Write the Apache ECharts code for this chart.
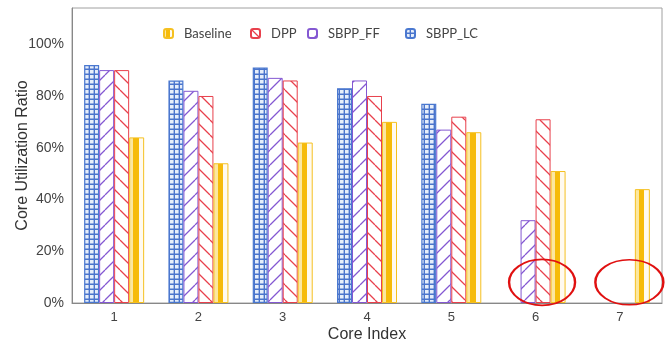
<!DOCTYPE html>
<html>
<head>
<meta charset="utf-8">
<script src="https://cdn.jsdelivr.net/npm/echarts@6/dist/echarts.min.js"></script>
<style>
  html, body { margin: 0; padding: 0; background: #fff; }
  #main { width: 672px; height: 343px; }
</style>
</head>
<body>
<div id="main"></div>
<script>
// 数据
const categories = ['1', '2', '3', '4', '5', '6', '7'];
const lcValues = [92, 86, 91, 83, 77, 0, 0];        // SBPP_LC
const ffValues = [90, 82, 87, 86, 67, 32, 0];       // SBPP_FF
const dppValues = [90, 80, 86, 80, 72, 71, 0];      // DPP
const baseValues = [64, 54, 62, 70, 66, 51, 44];    // Baseline
const legendNames = ['Baseline', 'DPP', 'SBPP_FF', 'SBPP_LC'];
const circleMarks = [['6', 8], ['7', 8]];           // 红圈标注

// 0 的柱子不画（否则会在轴上留一条边线）
const noZero = arr => arr.map(v => v === 0 ? '-' : v);

// 填充图案
function gridPattern() {
    const c = document.createElement('canvas');
    c.width = 5; c.height = 5;
    const ctx = c.getContext('2d');
    ctx.fillStyle = '#e6eefa';
    ctx.fillRect(0, 0, 5, 5);
    ctx.strokeStyle = '#4a74cc';
    ctx.lineWidth = 1.4;
    ctx.beginPath();
    ctx.moveTo(4.3, 0); ctx.lineTo(4.3, 5);
    ctx.moveTo(0, 4.3); ctx.lineTo(5, 4.3);
    ctx.stroke();
    return c;
}

function hatchPattern(color, up) {
    const s = 15;
    const c = document.createElement('canvas');
    c.width = s; c.height = s;
    const ctx = c.getContext('2d');
    ctx.fillStyle = '#fff';
    ctx.fillRect(0, 0, s, s);
    ctx.strokeStyle = color;
    ctx.lineWidth = 1.3;
    ctx.beginPath();
    for (let k = -s; k <= s; k += s) {
        if (up) {
            ctx.moveTo(k, s); ctx.lineTo(k + s, 0);
        } else {
            ctx.moveTo(k, 0); ctx.lineTo(k + s, s);
        }
    }
    ctx.stroke();
    return c;
}

const baselineFill = new echarts.graphic.LinearGradient(0, 0, 1, 0, [
    {offset: 0, color: '#fbe7a0'},
    {offset: 0.28, color: '#fbe7a0'},
    {offset: 0.28, color: '#f6bb0a'},
    {offset: 0.64, color: '#f6bb0a'},
    {offset: 0.64, color: '#fffaf0'},
    {offset: 1, color: '#fffaf0'}
]);

const chart = echarts.init(document.getElementById('main'));
const labelFont = 'Liberation Sans';

function legendAt(name, left) {
    return {
        data: [name],
        top: 27,
        left: left,
        padding: 0,
        itemWidth: 9,
        itemHeight: 9,
        textStyle: {fontFamily: 'Lato', fontSize: 13, color: '#444', padding: [0, 0, 0, 6]}
    };
}

const option = {
    animation: false,
    backgroundColor: '#fff',
    grid: {
        left: 72, right: 10, top: 8, bottom: 40,
        outerBoundsMode: 'none',
        containLabel: false,
        show: true,
        borderColor: '#a0a0a0',
        borderWidth: 1
    },
    legend: [
        legendAt(legendNames[0], 163),
        legendAt(legendNames[1], 250),
        legendAt(legendNames[2], 307),
        legendAt(legendNames[3], 405)
    ],
    xAxis: {
        type: 'category',
        data: categories,
        name: 'Core Index',
        nameLocation: 'middle',
        nameGap: 24,
        nameMoveOverlap: false,
        nameTextStyle: {fontFamily: labelFont, fontSize: 16, color: '#333'},
        axisTick: {show: false},
        axisLine: {lineStyle: {color: '#888', width: 1}},
        axisLabel: {fontFamily: labelFont, fontSize: 13, color: '#444', margin: 8}
    },
    yAxis: {
        type: 'value',
        min: 0, max: 114, interval: 20,
        name: 'Core Utilization Ratio',
        nameLocation: 'middle',
        nameGap: 41,
        nameMoveOverlap: false,
        nameTextStyle: {fontFamily: labelFont, fontSize: 16, color: '#333'},
        axisTick: {show: false},
        axisLine: {show: true, lineStyle: {color: '#888', width: 1}},
        splitLine: {show: false},
        axisLabel: {
            fontFamily: labelFont, fontSize: 14, color: '#444', margin: 8,
            showMaxLabel: false,
            formatter: v => v > 100 ? '' : v + '%'
        }
    },
    series: [{
        name: 'SBPP_LC',
        type: 'bar',
        barWidth: 15,
        barGap: '0%',
        data: noZero(lcValues),
        itemStyle: {
            color: {image: gridPattern(), repeat: 'repeat'},
            borderColor: '#4a78d0',
            borderWidth: 1.2
        }
    }, {
        name: 'SBPP_FF',
        type: 'bar',
        barWidth: 15,
        barGap: '0%',
        data: noZero(ffValues),
        itemStyle: {
            color: {image: hatchPattern('#8458d2', true), repeat: 'repeat'},
            borderColor: '#8458d2',
            borderWidth: 1
        }
    }, {
        name: 'DPP',
        type: 'bar',
        barWidth: 15,
        barGap: '0%',
        data: noZero(dppValues),
        itemStyle: {
            color: {image: hatchPattern('#e8404c', false), repeat: 'repeat'},
            borderColor: '#e8404c',
            borderWidth: 1
        }
    }, {
        name: 'Baseline',
        type: 'bar',
        barWidth: 15,
        barGap: '0%',
        data: noZero(baseValues),
        itemStyle: {
            color: baselineFill,
            borderColor: '#f5c020',
            borderWidth: 1
        },
        markPoint: {
            silent: true,
            symbol: 'path://M0,50 A50,50 0 1,1 100,50 A50,50 0 1,1 0,50 Z',
            symbolKeepAspect: false,
            label: {show: false},
            itemStyle: {color: 'rgba(0,0,0,0)', borderColor: '#e01010', borderWidth: 2},
            data: [
                {coord: circleMarks[0], symbolSize: [66, 46], symbolOffset: [-16, 0]},
                {coord: circleMarks[1], symbolSize: [68, 45], symbolOffset: [-13, 0]}
            ]
        }
    }]
};

chart.setOption(option);
</script>
</body>
</html>
